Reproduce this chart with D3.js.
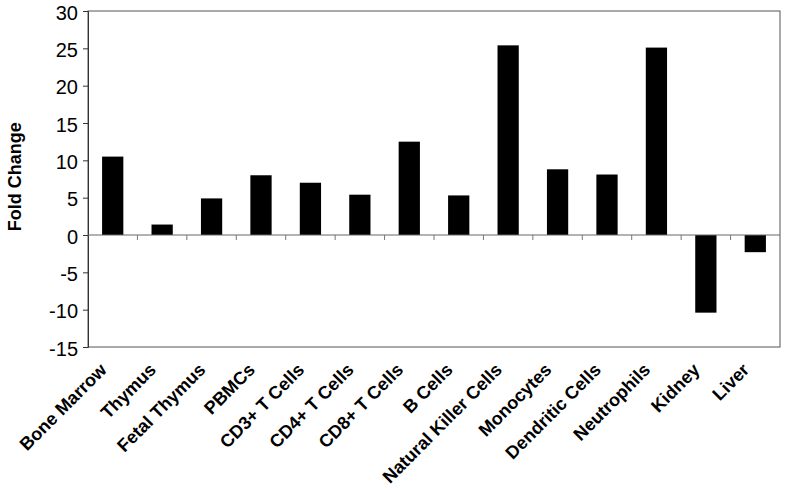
<!DOCTYPE html>
<html>
<head>
<meta charset="utf-8">
<script src="https://cdn.jsdelivr.net/npm/d3@7"></script>
<style>
  body { margin: 0; background: #fff; }
  svg { display: block; }
</style>
</head>
<body>
<div id="chart"></div>
<script>
// tissues and fold change values
const tissues = ["Bone Marrow", "Thymus", "Fetal Thymus", "PBMCs", "CD3+ T Cells",
  "CD4+ T Cells", "CD8+ T Cells", "B Cells", "Natural Killer Cells", "Monocytes",
  "Dendritic Cells", "Neutrophils", "Kidney", "Liver"];
const foldChange = [10.5, 1.4, 4.9, 8.0, 7.0, 5.4, 12.5, 5.3, 25.4, 8.8, 8.1, 25.1, -10.4, -2.3];
const yTicks = [-15, -10, -5, 0, 5, 10, 15, 20, 25, 30];

const width = 787, height = 490;
const margin = { top: 11, right: 7, bottom: 143, left: 88 };
const innerW = width - margin.left - margin.right;
const innerH = height - margin.top - margin.bottom;

const svg = d3.select("#chart")
  .append("svg")
  .attr("width", width)
  .attr("height", height)
  .style("font-family", "Arial, 'Liberation Sans', sans-serif");

const g = svg.append("g")
  .attr("transform", "translate(" + margin.left + "," + margin.top + ")");

const x = d3.scaleBand().domain(tissues).range([0, innerW]).paddingInner(0.57).paddingOuter(0.285);
const xb = d3.scaleBand().domain(tissues).range([0, innerW]); // for boundary ticks
const y = d3.scaleLinear().domain([-15, 30]).range([innerH, 0]);

// plot frame
g.append("rect")
  .attr("x", 0).attr("y", 0)
  .attr("width", innerW).attr("height", innerH)
  .attr("fill", "none")
  .attr("stroke", "#555")
  .attr("stroke-width", 1);

// y axis
const yAxis = g.append("g")
  .call(d3.axisLeft(y).tickValues(yTicks).tickSize(5).tickPadding(5).tickFormat(d => String(d)));
yAxis.select(".domain").attr("stroke", "#333");
yAxis.selectAll(".tick line").attr("stroke", "#333");
yAxis.selectAll("text")
  .attr("font-size", 20)
  .attr("dy", "0.4em")
  .attr("font-family", "Arial, 'Liberation Sans', sans-serif")
  .attr("fill", "#000");

// bars
g.selectAll("rect.bar")
  .data(foldChange)
  .enter()
  .append("rect")
  .attr("class", "bar")
  .attr("x", (d, i) => x(tissues[i]))
  .attr("width", x.bandwidth())
  .attr("y", d => y(Math.max(0, d)))
  .attr("height", d => Math.abs(y(d) - y(0)))
  .attr("fill", "#000");

// zero line with category boundary ticks
g.append("line")
  .attr("x1", 0).attr("x2", innerW)
  .attr("y1", y(0)).attr("y2", y(0))
  .attr("stroke", "#666");

g.selectAll("line.xtick")
  .data(tissues.slice(1))
  .enter()
  .append("line")
  .attr("class", "xtick")
  .attr("x1", d => xb(d)).attr("x2", d => xb(d))
  .attr("y1", y(0)).attr("y2", y(0) + 5)
  .attr("stroke", "#777");

// category labels, rotated
g.selectAll("text.xlabel")
  .data(tissues)
  .enter()
  .append("text")
  .attr("class", "xlabel")
  .attr("text-anchor", "end")
  .attr("font-size", 18)
  .attr("font-weight", "bold")
  .attr("transform", d => "translate(" + (xb(d) + xb.bandwidth() / 2 - 5) + "," + (innerH + 24) + ") rotate(-45)")
  .text(d => d);

// y title
svg.append("text")
  .attr("transform", "translate(21," + (margin.top + y(7.8)) + ") rotate(-90)")
  .attr("text-anchor", "middle")
  .attr("font-size", 18)
  .attr("font-weight", "bold")
  .text("Fold Change");
</script>
</body>
</html>
